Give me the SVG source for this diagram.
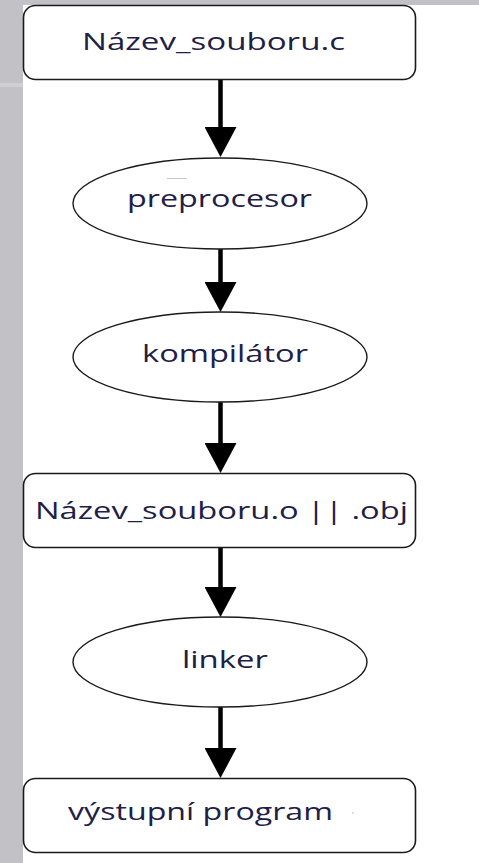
<svg xmlns="http://www.w3.org/2000/svg" width="479" height="863" viewBox="0 0 479 863">
<style>
.box{fill:#fff;stroke:#1a1a1a;stroke-width:1.6}
.ell{fill:#fff;stroke:#1a1a1a;stroke-width:1.4}
.lbl{font-family:"Open Sans","Noto Sans",sans-serif;font-size:24px;fill:#1e2046;text-anchor:start}
.con{stroke:#000;stroke-width:4.5;fill:none;marker-end:url(#ah)}
</style>
<defs>
<marker id="ah" markerUnits="userSpaceOnUse" markerWidth="30" markerHeight="32" viewBox="0 0 30 32" refX="25" refY="16" orient="auto">
<path d="M0,0 L30,16 L0,32 z" fill="#000"/>
</marker>
</defs>
<rect x="0" y="0" width="479" height="863" fill="#fff"/>
<rect x="0" y="0" width="479" height="5" fill="#c2c1c6"/>
<rect x="0" y="0" width="23" height="863" fill="#c2c1c6"/>
<rect x="0" y="83" width="23" height="4" fill="#cfced3"/>
<g id="connectors">
<line class="con" x1="220.5" y1="80" x2="220.5" y2="152"/>
<line class="con" x1="220.5" y1="249" x2="220.5" y2="307"/>
<line class="con" x1="220.5" y1="402" x2="220.5" y2="468"/>
<line class="con" x1="220.5" y1="548" x2="220.5" y2="612"/>
<line class="con" x1="220.5" y1="707" x2="220.5" y2="773"/>
</g>
<g id="node-source">
<rect class="box" x="23.5" y="5.5" width="392" height="74" rx="12"/>
<text class="lbl" x="82" y="50" textLength="263" lengthAdjust="spacingAndGlyphs">Název_souboru.c</text>
</g>
<g id="node-preprocesor">
<ellipse class="ell" cx="220" cy="203.5" rx="147" ry="45.5"/>
<line x1="167" y1="178.5" x2="187" y2="178.5" stroke="#cdbfcc" stroke-width="1"/>
<text class="lbl" x="127" y="207" textLength="185" lengthAdjust="spacingAndGlyphs">preprocesor</text>
</g>
<g id="node-kompilator">
<ellipse class="ell" cx="220" cy="357" rx="147" ry="45"/>
<text class="lbl" x="142" y="362" textLength="166" lengthAdjust="spacingAndGlyphs">kompilátor</text>
</g>
<g id="node-object">
<rect class="box" x="23.5" y="473.5" width="392" height="74" rx="12"/>
<text class="lbl" x="35" y="519" textLength="373" lengthAdjust="spacingAndGlyphs">Název_souboru.o || .obj</text>
</g>
<g id="node-linker">
<ellipse class="ell" cx="220" cy="662" rx="147" ry="45"/>
<text class="lbl" x="182" y="668" textLength="86" lengthAdjust="spacingAndGlyphs">linker</text>
</g>
<g id="node-output">
<rect class="box" x="23.5" y="778.5" width="392" height="74" rx="12"/>
<text class="lbl" x="68" y="820" textLength="265" lengthAdjust="spacingAndGlyphs">výstupní program</text>
<circle cx="353" cy="813" r="0.8" fill="#d4a6b6"/>
</g>
</svg>
